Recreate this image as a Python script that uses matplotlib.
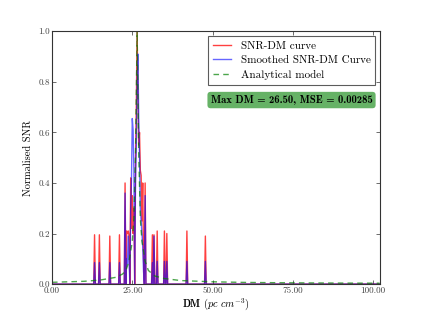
import numpy as np
import matplotlib
matplotlib.use("Agg")
import matplotlib.pyplot as plt

plt.rcParams['font.family'] = 'serif'
plt.rcParams['font.serif'] = ['cmr10']
plt.rcParams['mathtext.fontset'] = 'cm'
plt.rcParams['axes.formatter.use_mathtext'] = True

# ---- data ----
dm_step = 0.25
dm_max = 102.0

# DM positions with non-zero SNR
spike_dm = [13.25, 14.75, 18.0, 21.0,
            22.75, 23.25, 23.5, 23.75, 24.0, 24.5, 24.75, 25.0, 25.25, 25.5,
            26.0, 26.25, 26.5, 26.75, 27.0, 27.25, 27.5, 27.75, 28.0, 28.25,
            28.5, 29.0,
            31.25, 31.75, 32.75, 35.0, 35.75, 42.0, 47.75]
snr_raw = [0.195, 0.195, 0.19, 0.195,
           0.40, 0.21, 0.20, 0.21, 0.19, 0.42, 0.22, 0.35, 0.20, 0.30,
           0.48, 0.70, 1.00, 0.75, 0.55, 0.60, 0.45, 0.43, 0.25, 0.40,
           0.10, 0.40,
           0.195, 0.195, 0.21, 0.21, 0.20, 0.21, 0.19]
snr_smooth = [0.085, 0.085, 0.085, 0.085,
              0.36, 0.10, 0.08, 0.19, 0.10, 0.30, 0.42, 0.655, 0.61, 0.45,
              0.40, 0.55, 0.80, 0.91, 0.65, 0.50, 0.30, 0.25, 0.20, 0.15,
              0.05, 0.35,
              0.085, 0.19, 0.09, 0.09, 0.09, 0.09, 0.09]

model_dm = [0, 5, 10, 15, 20, 22, 23, 24, 25, 25.5, 26, 26.25, 26.5,
            26.75, 27, 27.5, 28, 29, 30, 32, 35, 40, 50, 60, 70, 80, 90, 100, 102]
model_snr = [0.007, 0.009, 0.011, 0.016, 0.027, 0.04, 0.054, 0.09, 0.17, 0.26,
             0.52, 0.75, 1.0, 0.75, 0.52, 0.26, 0.17, 0.09, 0.054, 0.032, 0.022,
             0.014, 0.009, 0.0066, 0.0054, 0.0046, 0.004, 0.0036, 0.0035]

x_ticks = [0, 25, 50, 75, 100]
y_ticks = [0.0, 0.2, 0.4, 0.6, 0.8, 1.0]
max_dm = 26.50
mse = 0.00285

# ---- build curves on the DM grid ----
dm = np.arange(0, dm_max + dm_step / 2, dm_step)
raw = np.zeros_like(dm)
smooth = np.zeros_like(dm)
for d, r, s in zip(spike_dm, snr_raw, snr_smooth):
    i = int(round(d / dm_step))
    raw[i] = r
    smooth[i] = s

fig = plt.figure(figsize=(4.21, 3.16), dpi=100, facecolor='white')
ax = fig.add_axes([0.1235, 0.101, 0.779, 0.800])

ax.plot(dm, raw, color='r', alpha=0.75, lw=1.0, label='SNR-DM curve')
ax.plot(dm, smooth, color='b', alpha=0.6, lw=1.0, label='Smoothed SNR-DM Curve')
ax.plot(model_dm, model_snr, color='g', ls='--', alpha=0.7, lw=1.0,
        dashes=(4, 3), label='Analytical model')

ax.set_xlim(0, 102.1)
ax.set_ylim(0, 1.0)
ax.set_xticks(x_ticks)
ax.set_yticks(y_ticks)
ax.set_xticklabels(['%.2f' % t for t in x_ticks])
ax.set_yticklabels(['%.1f' % t for t in y_ticks])
ax.tick_params(direction='in', top=True, right=True, labelsize=6.5,
               length=3, width=0.6, pad=1.5, colors='#555555', labelcolor='#444444')
for sp in ax.spines.values():
    sp.set_linewidth(0.8)
    sp.set_color('#333333')

ax.set_xlabel(r'$\mathbf{DM}$ ($pc\ cm^{-3}$)', fontsize=7.5, labelpad=1)
ax.set_ylabel('Normalised SNR', fontsize=7.5, labelpad=4)

leg = ax.legend(loc='upper right', fontsize=8, fancybox=False,
                handlelength=1.6, borderaxespad=0.45, labelspacing=0.45,
                handletextpad=0.9, borderpad=0.4)
leg.get_frame().set_edgecolor('#333333')
leg.get_frame().set_linewidth(0.8)

ax.text(0.977, 0.728, 'Max DM = %.2f, MSE = %.5f' % (max_dm, mse),
        transform=ax.transAxes, ha='right', va='center', fontsize=7.7,
        fontfamily='cmb10',
        bbox=dict(boxstyle='round,pad=0.3', facecolor='g', alpha=0.6,
                  edgecolor='none'))

fig.savefig('out.png', dpi=100, facecolor='white')
